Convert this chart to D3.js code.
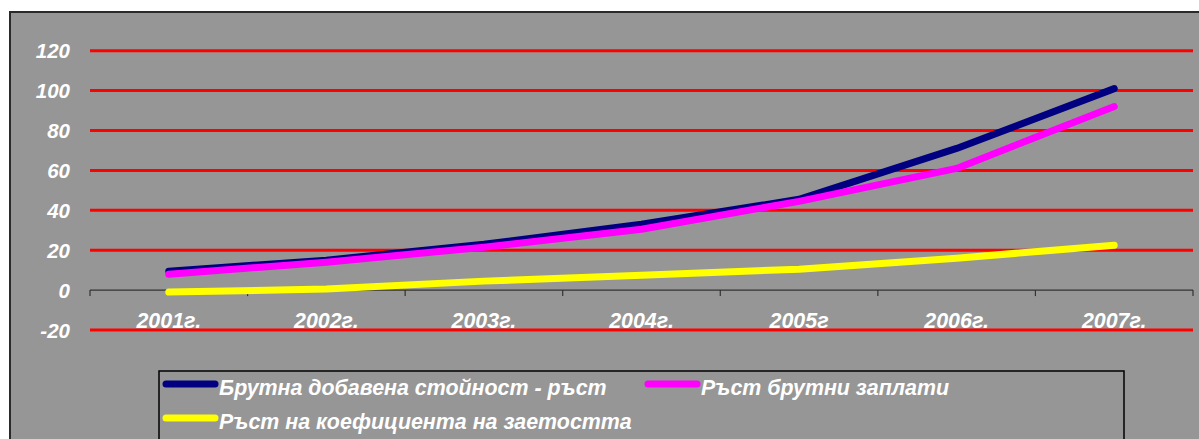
<!DOCTYPE html>
<html>
<head>
<meta charset="utf-8">
<script src="https://cdn.jsdelivr.net/npm/d3@7"></script>
<style>
  html, body { margin: 0; padding: 0; background: #ffffff; }
  svg { display: block; }
  text { font-family: "Liberation Sans", Arial, sans-serif; font-weight: bold; font-style: italic; fill: #ffffff; }
</style>
</head>
<body>
<svg id="chart" width="1199" height="439"></svg>
<script>
// Categories (years) and growth series
const years = ["2001г.", "2002г.", "2003г.", "2004г.", "2005г", "2006г.", "2007г."];
const gvaGrowth = [9.5, 15, 23, 33, 45.5, 71, 101];
const wageGrowth = [8, 14, 21.5, 30.5, 44.5, 61, 92];
const employmentGrowth = [-1, 0.5, 4.5, 7.5, 10.5, 16, 22.5];
const seriesNames = [
  "Брутна добавена стойност - ръст",
  "Ръст брутни заплати",
  "Ръст на коефициента на заетостта"
];
const seriesColors = ["#000080", "#ff00ff", "#ffff00"];
const yTicks = [-20, 0, 20, 40, 60, 80, 100, 120];

const svg = d3.select("#chart");

// Chart background with dark frame
svg.append("rect")
  .attr("x", 10).attr("y", 12)
  .attr("width", 1210).attr("height", 440)
  .attr("fill", "#969696")
  .attr("stroke", "#2a2a2a")
  .attr("stroke-width", 2);

const x = d3.scaleBand().domain(years).range([90, 1193]);
const y = d3.scaleLinear().domain([-20, 120]).range([330, 50.7]);
const cx = d => x(d) + x.bandwidth() / 2;

// Horizontal gridlines
svg.append("g").selectAll("line")
  .data(yTicks.filter(v => v !== 0))
  .join("line")
  .attr("x1", 90).attr("x2", 1193)
  .attr("y1", d => y(d)).attr("y2", d => y(d))
  .attr("stroke", "#ff0000")
  .attr("stroke-width", 3);

// Y tick labels
svg.append("g").selectAll("text")
  .data(yTicks)
  .join("text")
  .attr("x", 70)
  .attr("y", d => y(d))
  .attr("dy", "0.37em")
  .attr("text-anchor", "end")
  .attr("font-size", 20.5)
  .text(d => d);

// Category axis along zero
const axisG = svg.append("g");
axisG.append("line")
  .attr("x1", 90).attr("x2", 1193)
  .attr("y1", y(0)).attr("y2", y(0))
  .attr("stroke", "#333333").attr("stroke-width", 1.2);
const boundaries = years.map(d => x(d)).concat([x(years[years.length - 1]) + x.bandwidth()]);
axisG.selectAll("line.tick")
  .data(boundaries)
  .join("line")
  .attr("class", "tick")
  .attr("x1", d => d).attr("x2", d => d)
  .attr("y1", y(0)).attr("y2", y(0) + 6)
  .attr("stroke", "#333333").attr("stroke-width", 1.2);

// Category labels
svg.append("g").selectAll("text")
  .data(years)
  .join("text")
  .attr("x", d => cx(d))
  .attr("y", 328)
  .attr("text-anchor", "middle")
  .attr("font-size", 21.4)
  .text(d => d);

// Series lines
const line = d3.line()
  .x((d, i) => cx(years[i]))
  .y(d => y(d));
const allSeries = [gvaGrowth, wageGrowth, employmentGrowth];
svg.append("g").selectAll("path")
  .data(allSeries)
  .join("path")
  .attr("d", d => line(d))
  .attr("fill", "none")
  .attr("stroke", (d, i) => seriesColors[i])
  .attr("stroke-width", 7)
  .attr("stroke-linecap", "round")
  .attr("stroke-linejoin", "round");

// Legend
const legend = svg.append("g");
legend.append("rect")
  .attr("x", 159).attr("y", 371)
  .attr("width", 965).attr("height", 80)
  .attr("fill", "#969696")
  .attr("stroke", "#000000")
  .attr("stroke-width", 1.5);
const legendPos = [
  { x: 163, y: 384 },
  { x: 645, y: 384 },
  { x: 163, y: 418 }
];
seriesNames.forEach((name, i) => {
  const p = legendPos[i];
  legend.append("line")
    .attr("x1", p.x + 3).attr("x2", p.x + 52)
    .attr("y1", p.y).attr("y2", p.y)
    .attr("stroke", seriesColors[i])
    .attr("stroke-width", 7)
    .attr("stroke-linecap", "round");
  legend.append("text")
    .attr("x", p.x + 56)
    .attr("y", p.y + 11)
    .attr("font-size", 21.4)
    .text(name);
});
</script>
</body>
</html>
